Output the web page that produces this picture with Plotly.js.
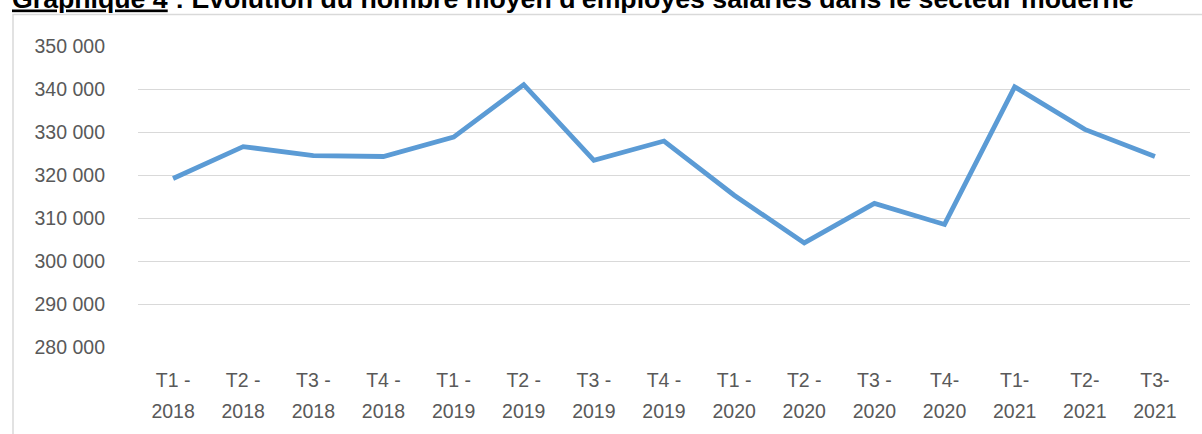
<!DOCTYPE html>
<html>
<head>
<meta charset="utf-8">
<script src="https://cdn.plot.ly/plotly-3.0.1.min.js"></script>
<style>
html,body{margin:0;padding:0;background:#fff;}
#chart{width:1202px;height:434px;}
</style>
</head>
<body>
<div id="chart"></div>
<script>
// Data
var quarters = ["T1 -", "T2 -", "T3 -", "T4 -", "T1 -", "T2 -", "T3 -", "T4 -", "T1 -", "T2 -", "T3 -", "T4-", "T1-", "T2-", "T3-"];
var years = ["2018", "2018", "2018", "2018", "2019", "2019", "2019", "2019", "2020", "2020", "2020", "2020", "2021", "2021", "2021"];
var employes = [319200, 326600, 324500, 324300, 328800, 341000, 323400, 327900, 315300, 304200, 313400, 308500, 340500, 330600, 324300];
var titleText = "<u>Graphique 4</u> : Evolution du nombre moyen d'employés salariés dans le secteur moderne";

var idx = quarters.map(function (_, i) { return i; });

var tickFont = {family: "Liberation Sans, Arial, sans-serif", size: 19.5, color: "#595959"};

var trace = {
  x: idx,
  y: employes,
  type: "scatter",
  mode: "lines",
  line: {color: "#5B9BD5", width: 4.8},
  hoverinfo: "skip",
  showlegend: false
};

// same series attached to the second (year-label) axis so that axis is drawn; fully transparent
var traceYears = {
  x: idx,
  y: employes,
  xaxis: "x2",
  type: "scatter",
  mode: "lines",
  line: {color: "rgba(0,0,0,0)", width: 0},
  opacity: 0,
  hoverinfo: "skip",
  showlegend: false
};

var layout = {
  width: 1202,
  height: 434,
  margin: {l: 138, r: 12, t: 46, b: 87},
  paper_bgcolor: "#ffffff",
  plot_bgcolor: "#ffffff",
  separators: ", ",
  showlegend: false,
  title: {
    text: titleText,
    font: {family: "Liberation Sans, Arial, sans-serif", size: 26.7, color: "#000000", weight: "bold"},
    xref: "container", yref: "container",
    x: 12 / 1202, xanchor: "left",
    y: 1 - 7.5 / 434, yanchor: "bottom"
  },
  xaxis: {
    range: [-0.5, 14.5],
    tickmode: "array",
    tickvals: idx,
    ticktext: quarters,
    showgrid: false,
    zeroline: false,
    showline: false,
    ticks: "",
    tickfont: tickFont,
    ticklabelstandoff: 19,
    fixedrange: true
  },
  xaxis2: {
    overlaying: "x",
    anchor: "y",
    side: "bottom",
    range: [-0.5, 14.5],
    tickmode: "array",
    tickvals: idx,
    ticktext: years,
    showgrid: false,
    zeroline: false,
    showline: false,
    ticks: "",
    tickfont: tickFont,
    ticklabelstandoff: 50,
    fixedrange: true
  },
  yaxis: {
    range: [280000, 350000],
    dtick: 10000,
    tick0: 280000,
    tickformat: ",d",
    showgrid: true,
    gridcolor: "#D9D9D9",
    gridwidth: 1,
    zeroline: false,
    showline: false,
    ticks: "",
    tickfont: tickFont,
    ticklabelstandoff: 32,
    fixedrange: true
  },
  shapes: [
    {
      type: "rect", xref: "paper", yref: "paper",
      x0: (13 - 138) / 1052, x1: (1205 - 138) / 1052,
      y0: (346.7 - 450) / 300.7, y1: (346.7 - 14.5) / 300.7,
      line: {color: "#D9D9D9", width: 1.5},
      fillcolor: "rgba(0,0,0,0)",
      layer: "below"
    }
  ]
};

Plotly.newPlot("chart", [traceYears, trace], layout, {displayModeBar: false, staticPlot: true});
</script>
</body>
</html>
